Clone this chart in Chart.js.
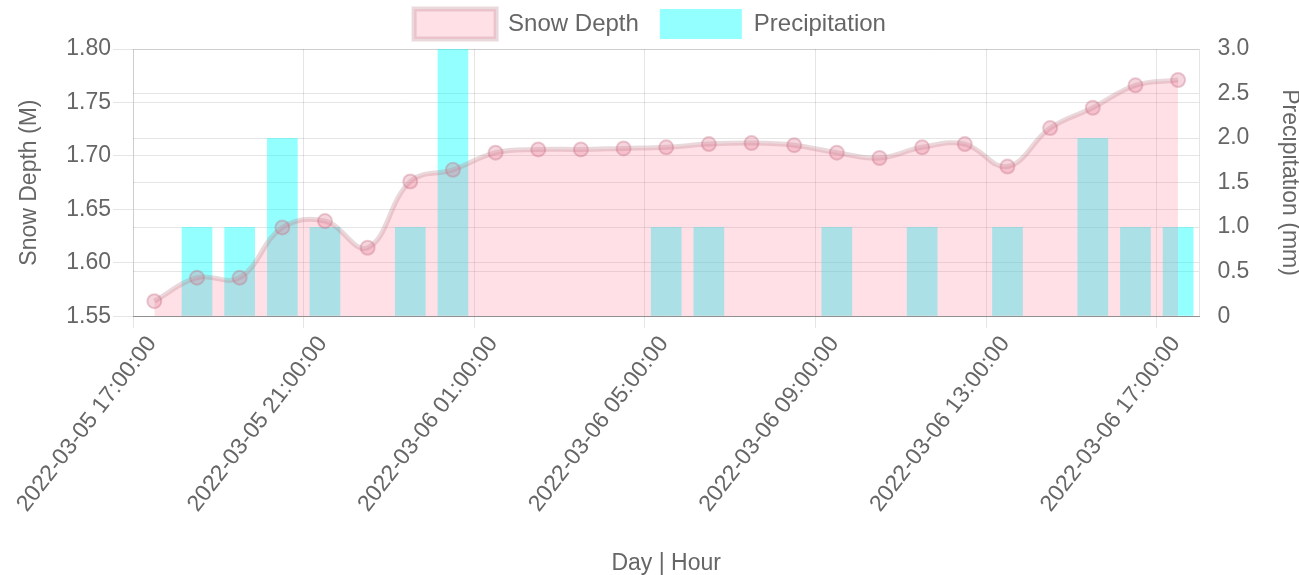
<!DOCTYPE html>
<html>
<head>
<meta charset="utf-8">
<script src="https://cdn.jsdelivr.net/npm/chart.js@4.4.0/dist/chart.umd.min.js"></script>
<style>
html, body { margin: 0; padding: 0; background: #fff; }
#wrap { width: 1299px; height: 575px; }
</style>
</head>
<body>
<div id="wrap"><canvas id="chart"></canvas></div>
<script>
// readings (hourly)
const TIMES = [
    '2022-03-05 17:30', '2022-03-05 18:30', '2022-03-05 19:30', '2022-03-05 20:30',
    '2022-03-05 21:30', '2022-03-05 22:30', '2022-03-05 23:30', '2022-03-06 00:30',
    '2022-03-06 01:30', '2022-03-06 02:30', '2022-03-06 03:30', '2022-03-06 04:30',
    '2022-03-06 05:30', '2022-03-06 06:30', '2022-03-06 07:30', '2022-03-06 08:30',
    '2022-03-06 09:30', '2022-03-06 10:30', '2022-03-06 11:30', '2022-03-06 12:30',
    '2022-03-06 13:30', '2022-03-06 14:30', '2022-03-06 15:30', '2022-03-06 16:30',
    '2022-03-06 17:30'
];
const SNOW_DEPTH = [
    1.564, 1.586, 1.586, 1.633, 1.639, 1.614, 1.676, 1.687,
    1.703, 1.706, 1.706, 1.707, 1.708, 1.711, 1.712, 1.710,
    1.703, 1.698, 1.708, 1.711, 1.690, 1.726, 1.745, 1.766,
    1.771
];
const PRECIP = [
    0, 1, 1, 2, 1, 0, 1, 3,
    0, 0, 0, 0, 1, 1, 0, 0,
    1, 0, 1, 0, 1, 0, 2, 1,
    1
];

// axes
const AXIS_START = '2022-03-05 17:00';
const AXIS_HOURS = 25;
const X_STEP = 4;
const DEPTH_RANGE = [1.55, 1.80];
const DEPTH_STEP = 0.05;
const PRECIP_RANGE = [0, 3];
const PRECIP_STEP = 0.5;

const FONT = '"Liberation Sans", Arial, sans-serif';
const TXT = '#666';

function toMs(s) { return Date.parse(s.replace(' ', 'T') + ':00Z'); }
const startMs = toMs(AXIS_START);
function hoursFromStart(s) { return (toMs(s) - startMs) / 3600000; }
function fmtHour(v) {
    const d = new Date(startMs + v * 3600000);
    return d.toISOString().slice(0, 19).replace('T', ' ');
}

const depthPoints = TIMES.map((t, i) => ({ x: hoursFromStart(t), y: SNOW_DEPTH[i] }));
const precipPoints = TIMES.map((t, i) => ({ x: hoursFromStart(t), y: PRECIP[i] }));

const tickFont = { family: FONT, size: 23 };
const titleFont = { family: FONT, size: 23 };

new Chart(document.getElementById('chart'), {
    type: 'bar',
    data: {
        datasets: [
            {
                type: 'line',
                label: 'Snow Depth',
                data: depthPoints,
                yAxisID: 'y',
                fill: 'start',
                tension: 0.4,
                backgroundColor: 'rgba(255, 99, 132, 0.2)',
                borderColor: 'rgba(185, 130, 140, 0.3)',
                borderWidth: 5,
                pointRadius: 7,
                pointBorderWidth: 2,
                pointBackgroundColor: 'rgba(225, 120, 145, 0.3)',
                pointBorderColor: 'rgba(195, 110, 130, 0.35)'
            },
            {
                type: 'bar',
                label: 'Precipitation',
                data: precipPoints,
                yAxisID: 'y1',
                backgroundColor: 'rgba(0, 255, 255, 0.42)',
                borderWidth: 0
            }
        ]
    },
    options: {
        responsive: true,
        maintainAspectRatio: false,
        animation: false,
        layout: { padding: { left: -3, right: -4, top: -12, bottom: -2 } },
        plugins: {
            legend: {
                position: 'top',
                labels: {
                    boxWidth: 82,
                    boxHeight: 30,
                    padding: 21,
                    color: TXT,
                    font: { family: FONT, size: 24 }
                }
            },
            tooltip: { enabled: false }
        },
        scales: {
            x: {
                type: 'linear',
                min: 0,
                max: AXIS_HOURS,
                offset: false,
                grid: { offset: false, tickLength: 12 },
                border: { color: 'rgba(0,0,0,0.3)' },
                ticks: {
                    stepSize: X_STEP,
                    includeBounds: false,
                    minRotation: 52.5,
                    maxRotation: 52.5,
                    labelOffset: 19,
                    color: TXT,
                    font: tickFont,
                    callback: v => fmtHour(v)
                },
                title: { display: true, text: 'Day | Hour', color: TXT, font: titleFont, padding: { top: 29, bottom: 0 } }
            },
            y: {
                position: 'left',
                min: DEPTH_RANGE[0],
                max: DEPTH_RANGE[1],
                grid: { tickLength: 20 },
                ticks: {
                    stepSize: DEPTH_STEP,
                    padding: 2,
                    color: TXT,
                    font: tickFont,
                    callback: v => v.toFixed(2)
                },
                title: { display: true, text: 'Snow Depth (M)', color: TXT, font: titleFont, padding: { top: 0, bottom: 21 } }
            },
            y1: {
                position: 'right',
                min: PRECIP_RANGE[0],
                max: PRECIP_RANGE[1],
                grid: { drawTicks: false },
                ticks: {
                    stepSize: PRECIP_STEP,
                    padding: 18,
                    color: TXT,
                    font: tickFont,
                    callback: v => (v === 0 ? '0' : v.toFixed(1))
                },
                title: { display: true, text: 'Precipitation (mm)', color: TXT, font: titleFont, padding: { top: 0, bottom: 8 } }
            }
        }
    }
});
</script>
</body>
</html>
